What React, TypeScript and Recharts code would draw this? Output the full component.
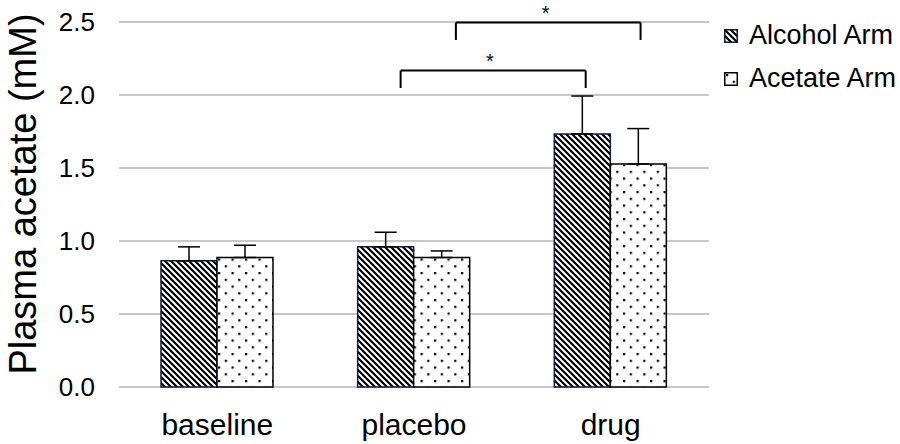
import React from 'react';
import { BarChart, Bar, XAxis, YAxis, CartesianGrid, ErrorBar, ReferenceLine, ReferenceDot, Label } from 'recharts';

const categories = ['baseline', 'placebo', 'drug'];
const categoryPos = [0.5, 1.5, 2.5];
const alcoholMeans = [0.864, 0.96, 1.733];
const alcoholErr = [0.096, 0.1, 0.26];
const acetateMeans = [0.887, 0.887, 1.527];
const acetateErr = [0.084, 0.045, 0.243];
const yTicks = [0, 0.5, 1.0, 1.5, 2.0, 2.5];
const seriesNames = ['Alcohol Arm', 'Acetate Arm'];
const yLabel = 'Plasma acetate (mM)';
// significance brackets, in category units (0..3) and data units
const brackets = [
  { x1: 1.432, x2: 2.373, y: 2.167, leg: 2.048, starX: 1.886, starY: 2.26 },
  { x1: 1.713, x2: 2.652, y: 2.496, leg: 2.377, starX: 2.169, starY: 2.59 },
];

const data = categories.map((c, i) => ({
  name: c,
  pos: categoryPos[i],
  alcohol: alcoholMeans[i],
  alcoholErr: [0, alcoholErr[i]],
  acetate: acetateMeans[i],
  acetateErr: [0, acetateErr[i]],
}));

const FONT = '"Liberation Sans", Arial, sans-serif';

const Patterns = () => (
  <svg width={0} height={0} style={{ position: 'absolute' }}>
    <defs>
      <pattern id="hatch" patternUnits="userSpaceOnUse" width={6} height={6}>
        <rect width={6} height={6} fill="#fff" />
        <path d="M-1,-1 L7,7 M-1,5 L1,7 M5,-1 L7,1" stroke="#000" strokeWidth={2.2} />
      </pattern>
      <pattern id="dots" patternUnits="userSpaceOnUse" width={13.5} height={13.5} x={2} y={2}>
        <rect width={13.5} height={13.5} fill="#fff" />
        <rect x={0} y={0} width={2.2} height={2.2} fill="#000" />
        <rect x={6.75} y={6.75} width={2.2} height={2.2} fill="#000" />
      </pattern>
    </defs>
  </svg>
);

const renderYLabel = () => (
  <text
    x={23}
    y={194}
    transform="rotate(-90 23 194)"
    textAnchor="middle"
    dominantBaseline="central"
    fontSize={38}
    fontFamily={FONT}
    fill="#000"
  >
    {yLabel}
  </text>
);

const Star = (p: any) => (
  <text x={p.cx} y={p.cy} dy={11} textAnchor="middle" fontSize={20} fontFamily={FONT} fill="#000">
    *
  </text>
);

export default function App() {
  return (
    <div style={{ position: 'absolute', left: 0, top: 0, width: 900, height: 444, background: '#fff' }}>
      <Patterns />
      <BarChart
        width={900}
        height={444}
        data={data}
        margin={{ top: 22, right: 191, bottom: 0, left: 0 }}
        barCategoryGap={42}
        barGap={0}
      >
        <CartesianGrid vertical={false} stroke="#b5b5b5" strokeWidth={1.4} />
        <XAxis
          dataKey="name"
          height={57}
          axisLine={false}
          tickLine={false}
          tickSize={0}
          tickMargin={27}
          tick={{ fontSize: 30, fill: '#000', fontFamily: FONT }}
        />
        <XAxis xAxisId="b" dataKey="pos" type="number" domain={[0, 3]} hide height={0} />
        <YAxis
          width={119}
          domain={[0, 2.5]}
          ticks={yTicks}
          axisLine={false}
          tickLine={false}
          tickSize={0}
          tickMargin={24}
          tickFormatter={(v: number) => v.toFixed(1)}
          tick={{ fontSize: 26, fill: '#000', fontFamily: FONT }}
        >
          <Label content={renderYLabel} />
        </YAxis>
        <Bar dataKey="alcohol" name={seriesNames[0]} fill="url(#hatch)" stroke="#121a3c" strokeWidth={1.5} isAnimationActive={false}>
          <ErrorBar dataKey="alcoholErr" direction="y" width={11} stroke="#000" strokeWidth={1.5} />
        </Bar>
        <Bar dataKey="acetate" name={seriesNames[1]} fill="url(#dots)" stroke="#000" strokeWidth={1.5} isAnimationActive={false}>
          <ErrorBar dataKey="acetateErr" direction="y" width={11} stroke="#000" strokeWidth={1.5} />
        </Bar>
        {brackets.map((b, i) => (
          <ReferenceLine key={`h${i}`} xAxisId="b" segment={[{ x: b.x1, y: b.y }, { x: b.x2, y: b.y }]} stroke="#000" strokeWidth={2} ifOverflow="visible" />
        ))}
        {brackets.map((b, i) => (
          <ReferenceLine key={`l${i}`} xAxisId="b" segment={[{ x: b.x1, y: b.y }, { x: b.x1, y: b.leg }]} stroke="#000" strokeWidth={2} ifOverflow="visible" />
        ))}
        {brackets.map((b, i) => (
          <ReferenceLine key={`r${i}`} xAxisId="b" segment={[{ x: b.x2, y: b.y }, { x: b.x2, y: b.leg }]} stroke="#000" strokeWidth={2} ifOverflow="visible" />
        ))}
        {brackets.map((b, i) => (
          <ReferenceDot key={`s${i}`} xAxisId="b" x={b.starX} y={b.starY} r={3} shape={Star} ifOverflow="visible" />
        ))}
      </BarChart>
      <div style={{ position: 'absolute', left: 724, top: 14, fontFamily: FONT, fontSize: 27, color: '#000' }}>
        {seriesNames.map((n, i) => (
          <div key={n} style={{ display: 'flex', alignItems: 'center', height: 43 }}>
            <svg width={14} height={14} style={{ marginRight: 11 }}>
              <rect x={0.75} y={0.75} width={12.5} height={12.5} fill={i === 0 ? 'url(#hatch)' : 'url(#dots)'} stroke={i === 0 ? '#121a3c' : '#000'} strokeWidth={1.5} />
            </svg>
            <span>{n}</span>
          </div>
        ))}
      </div>
    </div>
  );
}
